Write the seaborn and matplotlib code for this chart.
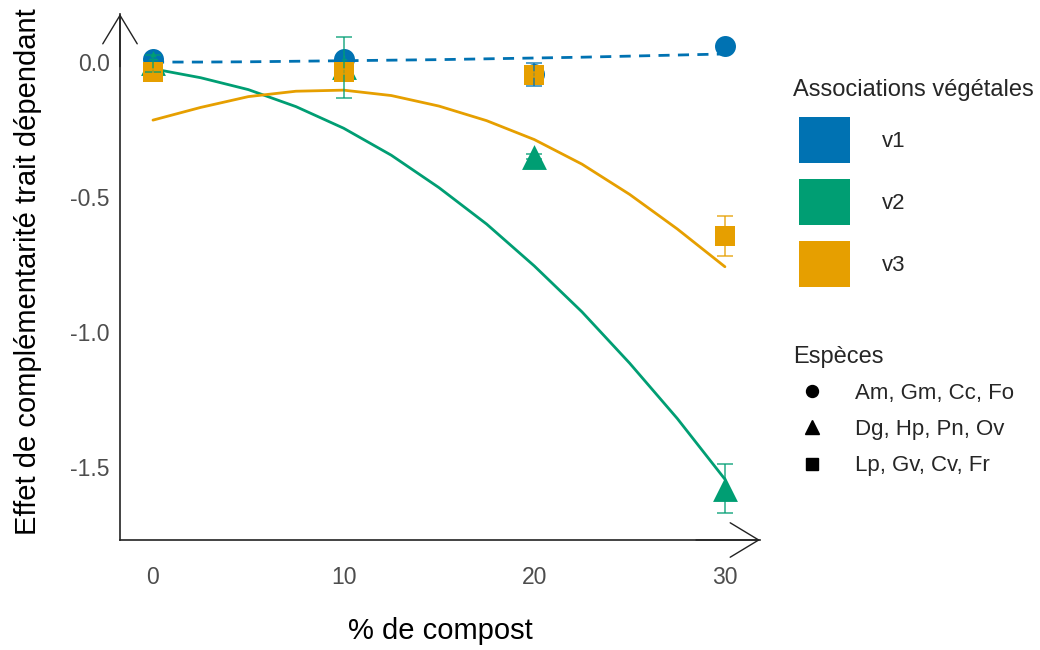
import numpy as np
import pandas as pd
import matplotlib
matplotlib.use("Agg")
import matplotlib.pyplot as plt
import seaborn as sns
from matplotlib.patches import Patch
from matplotlib.lines import Line2D
from matplotlib.legend_handler import HandlerPatch


OUTPUT_PLOT = "out.png"

# group means and standard errors, one entry per compost level
COMPOST = [0, 10, 20, 30]
V1_MEAN = [0.01, 0.01, -0.045, 0.06]
V1_SE = [0.005, 0.005, 0.042, 0.005]
V2_MEAN = [-0.005, -0.02, -0.35, -1.58]
V2_SE = [0.03, 0.113, 0.01, 0.09]
V3_MEAN = [-0.036, -0.036, -0.047, -0.645]
V3_SE = [0.01, 0.01, 0.01, 0.075]

# smoothed trend per association
FIT_X = [0, 2.5, 5, 7.5, 10, 12.5, 15, 17.5, 20, 22.5, 25, 27.5, 30]
V1_FIT = [0.0, 0.0, 0.001, 0.003, 0.005, 0.007, 0.009, 0.012, 0.015, 0.018, 0.022, 0.026, 0.03]
V2_FIT = [-0.025, -0.058, -0.102, -0.165, -0.245, -0.345, -0.465, -0.60, -0.755, -0.925, -1.115, -1.32, -1.545]
V3_FIT = [-0.215, -0.168, -0.128, -0.108, -0.104, -0.124, -0.163, -0.217, -0.287, -0.378, -0.49, -0.618, -0.758]

ASSOCIATIONS = ["v1", "v2", "v3"]
ESPECES = ["Am, Gm, Cc, Fo", "Dg, Hp, Pn, Ov", "Lp, Gv, Cv, Fr"]
Y_TICKS = [-1.5, -1.0, -0.5, 0.0]

PALETTE = {"v1": "#0072B2", "v2": "#009E73", "v3": "#E69F00"}
MARKERS = {"v1": "o", "v2": "^", "v3": "s"}
POINT_SIZE = {"v1": 228, "v2": 320, "v3": 215}
LEGEND_MS = {"v1": 8.6, "v2": 9.5, "v3": 8.0}


def build_frames():
    means = pd.DataFrame({
        "compost": COMPOST * 3,
        "effet": V1_MEAN + V2_MEAN + V3_MEAN,
        "se": V1_SE + V2_SE + V3_SE,
        "association": np.repeat(ASSOCIATIONS, len(COMPOST)),
    })
    fits = pd.DataFrame({
        "compost": FIT_X * 3,
        "effet": V1_FIT + V2_FIT + V3_FIT,
        "association": np.repeat(ASSOCIATIONS, len(FIT_X)),
    })
    return means, fits


def add_axis_arrows(ax):
    arrow_kw = dict(
        arrowstyle="->,head_length=20.5,head_width=12.4",
        color="#222222",
        lw=1.0,
        mutation_scale=1,
        shrinkA=0,
        shrinkB=0,
    )
    ax.annotate("", xy=(0, 1), xytext=(0, 0.9), xycoords="axes fraction",
                arrowprops=arrow_kw, annotation_clip=False)
    ax.annotate("", xy=(1, 0), xytext=(0.9, 0), xycoords="axes fraction",
                arrowprops=arrow_kw, annotation_clip=False)


def add_legends(fig):
    handles1 = [Patch(facecolor=PALETTE[a], edgecolor="none") for a in ASSOCIATIONS]
    fig.legend(
        handles1, ASSOCIATIONS, title="Associations végétales",
        loc="upper left", bbox_to_anchor=(793 / 1040, 1 - 79 / 650),
        frameon=False, fontsize=16, title_fontsize=17,
        handlelength=2.57, handleheight=2.81, handletextpad=1.44,
        labelspacing=0.72, borderpad=0, borderaxespad=0, alignment="left",
        handler_map={Patch: HandlerPatch(xpad=0.27)},
    )
    handles2 = [
        Line2D([], [], marker=MARKERS[a], color="black", linestyle="none",
               markersize=LEGEND_MS[a])
        for a in ASSOCIATIONS
    ]
    fig.legend(
        handles2, ESPECES, title="Espèces",
        loc="upper left", bbox_to_anchor=(793 / 1040, 1 - 346 / 650),
        frameon=False, fontsize=16, title_fontsize=17,
        handlelength=1.73, handletextpad=1.08,
        labelspacing=0.68, borderpad=0, borderaxespad=0, alignment="left",
    )


def main():
    sns.set_theme(style="white")
    plt.rcParams["font.family"] = ["Liberation Sans", "DejaVu Sans"]
    plt.rcParams["axes.unicode_minus"] = False

    means, fits = build_frames()

    fig = plt.figure(figsize=(10.4, 6.5), dpi=100)
    ax = fig.add_axes([120 / 1040, 1 - 540 / 650, 640 / 1040, 526 / 650])

    sns.lineplot(
        data=fits, x="compost", y="effet", hue="association",
        style="association", palette=PALETTE,
        dashes={"v1": (4, 3), "v2": "", "v3": ""},
        linewidth=2.0, estimator=None, sort=False, legend=False, ax=ax,
        zorder=1,
    )

    for assoc in ASSOCIATIONS:
        sub = means[means["association"] == assoc]
        sns.scatterplot(
            data=sub, x="compost", y="effet", color=PALETTE[assoc],
            marker=MARKERS[assoc], s=POINT_SIZE[assoc], linewidth=0,
            legend=False, ax=ax, zorder=3,
        )
    for assoc in ASSOCIATIONS:
        sub = means[means["association"] == assoc]
        ax.errorbar(
            sub["compost"], sub["effet"], yerr=sub["se"], fmt="none",
            ecolor=PALETTE[assoc], elinewidth=1.1, capsize=5.5, capthick=1.1,
            alpha=0.85, zorder=4,
        )

    ax.set_xlim(-1.73, 31.84)
    ax.set_ylim(-1.77, 0.178)
    ax.set_xticks(COMPOST)
    ax.set_yticks(Y_TICKS)
    ax.set_yticklabels([f"{v:.1f}" for v in Y_TICKS])

    for side in ["top", "right"]:
        ax.spines[side].set_visible(False)
    for side in ["left", "bottom"]:
        ax.spines[side].set_color("#222222")
        ax.spines[side].set_linewidth(1.2)

    ax.tick_params(axis="both", length=5, width=1.0, color="#333333",
                   labelsize=16.5, labelcolor="#4D4D4D")
    ax.tick_params(axis="y", pad=2.5)
    ax.tick_params(axis="x", pad=14)

    ax.set_xlabel("% de compost", fontsize=21, color="black")
    ax.set_ylabel("Effet de complémentarité trait dépendant", fontsize=21, color="black")
    ax.xaxis.set_label_coords(0.5, -0.146)
    ax.yaxis.set_label_coords(-0.122, 0.51)

    add_axis_arrows(ax)
    add_legends(fig)

    fig.savefig(OUTPUT_PLOT, dpi=100)
    plt.close(fig)


if __name__ == "__main__":
    main()
